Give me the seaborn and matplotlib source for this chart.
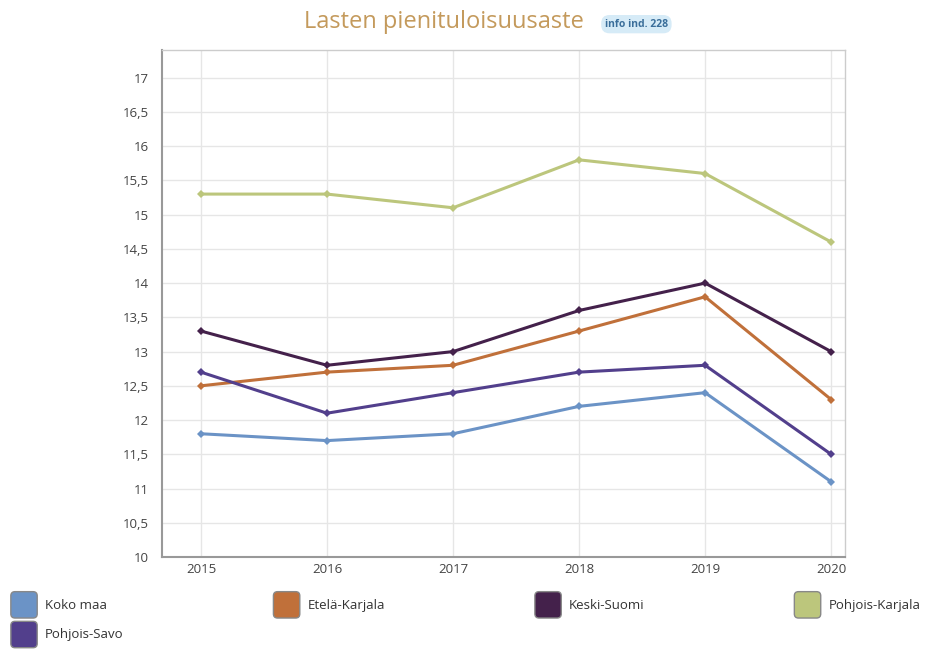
import matplotlib
matplotlib.use("Agg")
import matplotlib.pyplot as plt
import seaborn as sns
import pandas as pd
from matplotlib.patches import Patch, FancyBboxPatch
from matplotlib.legend_handler import HandlerPatch
from matplotlib.ticker import FuncFormatter, MultipleLocator

years = [2015, 2016, 2017, 2018, 2019, 2020]
koko_maa = [11.8, 11.7, 11.8, 12.2, 12.4, 11.1]
etela_karjala = [12.5, 12.7, 12.8, 13.3, 13.8, 12.3]
keski_suomi = [13.3, 12.8, 13.0, 13.6, 14.0, 13.0]
pohjois_karjala = [15.3, 15.3, 15.1, 15.8, 15.6, 14.6]
pohjois_savo = [12.7, 12.1, 12.4, 12.7, 12.8, 11.5]

series_names = ["Koko maa", "Etelä-Karjala", "Keski-Suomi", "Pohjois-Karjala", "Pohjois-Savo"]
series_values = [koko_maa, etela_karjala, keski_suomi, pohjois_karjala, pohjois_savo]
colors = ["#6b93c6", "#c0703a", "#44214b", "#bcc67c", "#523f8c"]

rows = []
for name, vals in zip(series_names, series_values):
    for y, v in zip(years, vals):
        rows.append({"Vuosi": y, "Arvo": v, "Alue": name})
df = pd.DataFrame(rows)

sns.set_theme(style="white")
plt.rcParams["font.family"] = ["Open Sans", "DejaVu Sans"]

fig = plt.figure(figsize=(9.25, 6.53), dpi=100)
ax = fig.add_axes([0.175, 0.147, 0.7385, 0.776])

sns.lineplot(data=df, x="Vuosi", y="Arvo", hue="Alue", hue_order=series_names,
             palette=colors, marker="D", markersize=4.5, markeredgewidth=0,
             linewidth=2.2, ax=ax, legend=False)

ax.set_xlim(2014.69, 2020.11)
ax.set_ylim(10, 17.4)
ax.set_xticks(years)
ax.yaxis.set_major_locator(MultipleLocator(0.5))
ax.yaxis.set_major_formatter(FuncFormatter(lambda v, p: (f"{v:g}").replace(".", ",")))
ax.grid(True, color="#e6e6e6", linewidth=1)
ax.set_axisbelow(True)
ax.set_xlabel("")
ax.set_ylabel("")
for s in ["top", "right"]:
    ax.spines[s].set_color("#cccccc")
    ax.spines[s].set_linewidth(1)
for s in ["left", "bottom"]:
    ax.spines[s].set_color("#999999")
    ax.spines[s].set_linewidth(1.5)
ax.tick_params(axis="both", labelsize=9.5, colors="#444444", length=4, width=1)
ax.tick_params(axis="y", color="#bbbbbb", length=6)
ax.tick_params(axis="x", color="#bbbbbb", length=0, pad=4)

fig.text(0.4795, 0.966, "Lasten pienituloisuusaste", ha="center", va="center",
         fontsize=17, color="#c49a5c")
fig.text(0.688, 0.963, "info ind. 228", ha="center", va="center", fontsize=7.5,
         color="#3a6e9a", fontweight="bold",
         bbox=dict(boxstyle="round,pad=0.35,rounding_size=0.8", fc="#d6ebf7", ec="none"))


class RoundHandler(HandlerPatch):
    def create_artists(self, legend, orig_handle, xdescent, ydescent, width, height,
                       fontsize, trans):
        size = min(width, height)
        p = FancyBboxPatch((-xdescent, -ydescent + (height - size) / 2), size, size,
                           boxstyle="round,pad=0,rounding_size=3",
                           facecolor=orig_handle.get_facecolor(),
                           edgecolor="#888888", linewidth=1, transform=trans)
        return [p]


order = [0, 4, 1, 2, 3]
handles = [Patch(facecolor=colors[i]) for i in order]
labels = [series_names[i] for i in order]
leg = fig.legend(handles, labels, ncol=4, loc="lower left",
                 bbox_to_anchor=(0.006, 0.0, 0.995, 0.13), mode="expand",
                 frameon=False, fontsize=9.5, handlelength=2.1, handleheight=2.7,
                 handletextpad=0.5, labelspacing=0.25, borderaxespad=0.0,
                 handler_map={Patch: RoundHandler()})
for t in leg.get_texts():
    t.set_color("#333333")

fig.savefig("out.png", dpi=100, facecolor="white")
